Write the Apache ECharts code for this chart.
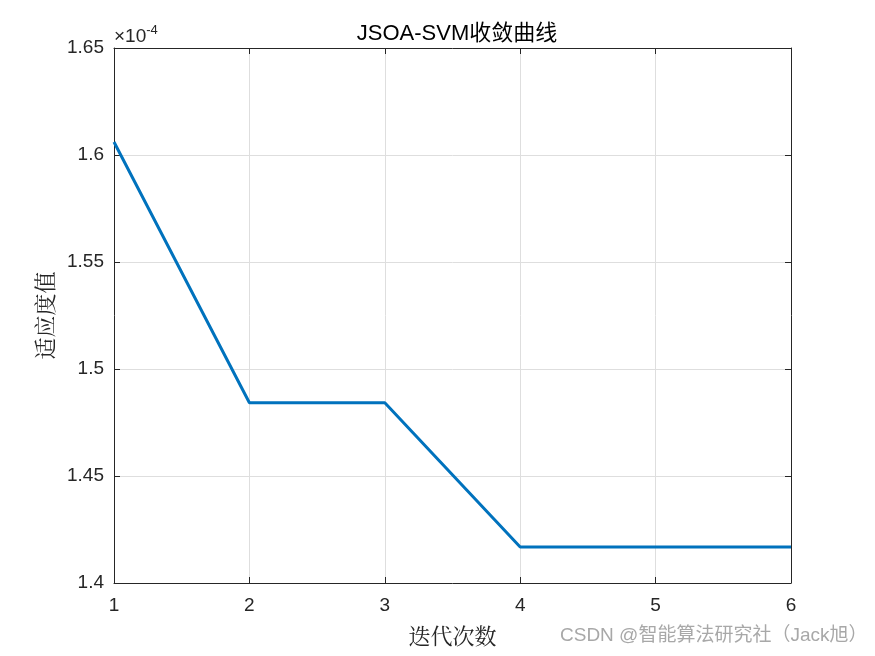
<!DOCTYPE html>
<html><head><meta charset="utf-8">
<script src="https://cdn.jsdelivr.net/npm/echarts@6/dist/echarts.min.js"></script>
<style>html,body{margin:0;padding:0;background:#fff}#c{width:875px;height:656px}</style>
</head><body><div id="c"></div>
<script>
const iterations = [1, 2, 3, 4, 5, 6];
const fitness = [1.6061, 1.4842, 1.4842, 1.4168, 1.4168, 1.4168]; // ×10^-4
const yTicks = [1.4, 1.45, 1.5, 1.55, 1.6, 1.65];
const titleText = 'JSOA-SVM收敛曲线';
const xName = '迭代次数';
const yName = '适应度值';
const watermark = 'CSDN @智能算法研究社（Jack旭）';

const chart = echarts.init(document.getElementById('c'));
const font = 'Liberation Sans, Arial, sans-serif';
const axisCommon = {
  axisLine: {show: true, lineStyle: {color: '#262626', width: 1}},
  axisTick: {show: true, inside: true, length: 6, lineStyle: {color: '#262626'}},
};
chart.setOption({
  animation: false,
  title: {text: titleText, left: 452, top: 18, textAlign: 'center',
    textStyle: {fontFamily: font + ', Noto Sans CJK SC', fontSize: 22, fontWeight: 'normal', color: '#000'}},
  grid: {left: 114, right: 84, top: 48, bottom: 73, containLabel: false},
  xAxis: [{
    type: 'value', min: 1, max: 6, interval: 1,
    ...axisCommon,
    axisLabel: {fontFamily: font, fontSize: 19, color: '#262626', margin: 13},
    splitLine: {show: true, lineStyle: {color: '#dedede', width: 1}},
    name: xName, nameLocation: 'middle', nameGap: 42,
    nameTextStyle: {fontFamily: 'Noto Serif CJK SC, Noto Sans CJK SC', fontSize: 22, color: '#262626'}
  }, {
    type: 'value', min: 1, max: 6, interval: 1, position: 'top',
    ...axisCommon, axisLabel: {show: false}, splitLine: {show: false}
  }],
  yAxis: [{
    type: 'value', min: 1.4, max: 1.65, interval: 0.05,
    ...axisCommon,
    axisLabel: {fontFamily: font, fontSize: 19, color: '#262626', margin: 10,
      formatter: v => String(parseFloat(v.toFixed(2)))},
    splitLine: {show: true, lineStyle: {color: '#dedede', width: 1}},
    name: yName, nameLocation: 'middle', nameGap: 55, nameRotate: 90,
    nameTextStyle: {fontFamily: 'Noto Serif CJK SC, Noto Sans CJK SC', fontSize: 22, color: '#262626'}
  }, {
    type: 'value', min: 1.4, max: 1.65, interval: 0.05, position: 'right',
    ...axisCommon, axisLabel: {show: false}, splitLine: {show: false}
  }],
  graphic: [
    {type: 'text', left: 114, top: 24, style: {
      text: '{a|×10}{b|-4}', fill: '#262626',
      rich: {a: {fontFamily: font, fontSize: 19, color: '#262626', verticalAlign: 'bottom'},
             b: {fontFamily: font, fontSize: 13, color: '#262626', padding: [0,0,9,0]}}}},
    {type: 'text', left: 560, top: 626, style: {
      text: watermark, fill: '#a8a8a8', font: '19px Liberation Sans, Noto Sans CJK SC'}}
  ],
  series: [{
    type: 'line', xAxisIndex: 0, yAxisIndex: 0,
    data: iterations.map((x, i) => [x, fitness[i]]),
    showSymbol: false, symbol: 'none',
    lineStyle: {color: '#0072BD', width: 3}
  }]
});
</script></body></html>
